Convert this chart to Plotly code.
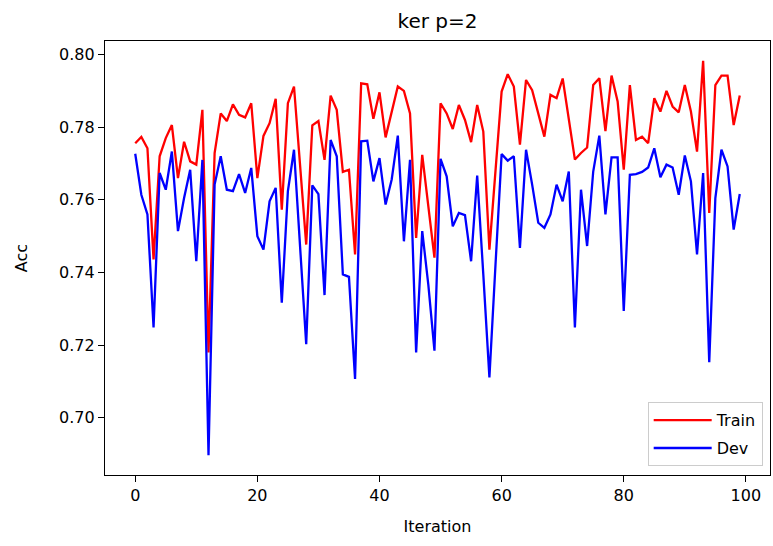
import plotly.graph_objects as go

iterations = list(range(100))

train_acc = [
    0.7756, 0.7773, 0.7742, 0.7436, 0.7720, 0.7770, 0.7806, 0.7660, 0.7760, 0.7706,
    0.7697, 0.7848, 0.7180, 0.7729, 0.7838, 0.7817, 0.7863, 0.7834, 0.7827, 0.7866,
    0.7660, 0.7776, 0.7811, 0.7878, 0.7573, 0.7866, 0.7912, 0.7700, 0.7477, 0.7805,
    0.7817, 0.7710, 0.7887, 0.7848, 0.7677, 0.7683, 0.7450, 0.7921, 0.7918, 0.7823,
    0.7896, 0.7772, 0.7838, 0.7912, 0.7900, 0.7838, 0.7495, 0.7724, 0.7582, 0.7441,
    0.7866, 0.7838, 0.7795, 0.7861, 0.7820, 0.7759, 0.7861, 0.7788, 0.7463, 0.7678,
    0.7898, 0.7946, 0.7912, 0.7752, 0.7930, 0.7902, 0.7834, 0.7774, 0.7889, 0.7880,
    0.7934, 0.7825, 0.7711, 0.7729, 0.7744, 0.7916, 0.7935, 0.7789, 0.7942, 0.7871,
    0.7683, 0.7916, 0.7765, 0.7774, 0.7756, 0.7880, 0.7843, 0.7900, 0.7857, 0.7841,
    0.7916, 0.7843, 0.7733, 0.7983, 0.7564, 0.7916, 0.7942, 0.7942, 0.7806, 0.7887,
]

dev_acc = [
    0.7727, 0.7614, 0.7560, 0.7249, 0.7674, 0.7628, 0.7733, 0.7514, 0.7605, 0.7683,
    0.7431, 0.7710, 0.6897, 0.7642, 0.7720, 0.7628, 0.7624, 0.7671, 0.7619, 0.7688,
    0.7500, 0.7463, 0.7596, 0.7633, 0.7317, 0.7624, 0.7738, 0.7468, 0.7203, 0.7640,
    0.7616, 0.7338, 0.7765, 0.7720, 0.7395, 0.7388, 0.7107, 0.7761, 0.7763, 0.7651,
    0.7715, 0.7587, 0.7656, 0.7777, 0.7486, 0.7710, 0.7180, 0.7514, 0.7366, 0.7185,
    0.7713, 0.7665, 0.7527, 0.7564, 0.7558, 0.7431, 0.7667, 0.7395, 0.7111, 0.7422,
    0.7726, 0.7708, 0.7720, 0.7468, 0.7738, 0.7642, 0.7537, 0.7523, 0.7560, 0.7642,
    0.7596, 0.7678, 0.7249, 0.7628, 0.7473, 0.7678, 0.7777, 0.7560, 0.7717, 0.7717,
    0.7294, 0.7669, 0.7671, 0.7677, 0.7689, 0.7742, 0.7662, 0.7697, 0.7689, 0.7614,
    0.7722, 0.7651, 0.7450, 0.7674, 0.7153, 0.7605, 0.7738, 0.7692, 0.7518, 0.7616,
]

x_ticks = [0, 20, 40, 60, 80, 100]
y_ticks = [0.70, 0.72, 0.74, 0.76, 0.78, 0.80]

FONT = "DejaVu Sans"

fig = go.Figure()
fig.add_trace(go.Scatter(x=iterations, y=train_acc, mode="lines", name="Train",
                         legendgroup="train",
                         line=dict(color="#ff0000", width=2.3)))
fig.add_trace(go.Scatter(x=iterations, y=dev_acc, mode="lines", name="Dev",
                         legendgroup="dev",
                         line=dict(color="#0000ff", width=2.3)))

ymin = min(min(train_acc), min(dev_acc))
ymax = max(max(train_acc), max(dev_acc))
pad = (ymax - ymin) * 0.05

fig.update_layout(
    width=773, height=546,
    paper_bgcolor="white", plot_bgcolor="white",
    margin=dict(l=105, r=3, t=41, b=71),
    font=dict(family=FONT, size=16, color="black"),
    title=dict(text="ker p=2", x=0.566, xanchor="center", y=0.962, yanchor="middle",
               font=dict(family=FONT, size=20, color="black")),
    showlegend=True,
    legend=dict(x=0.989, xanchor="right", y=0.02, yanchor="bottom",
                bgcolor="rgba(255,255,255,0.8)", bordercolor="#cccccc", borderwidth=1,
                font=dict(family=FONT, size=16, color="black"),
                itemwidth=58, traceorder="grouped", tracegroupgap=4),
    xaxis=dict(
        range=[-4.95, 103.95], tickvals=x_ticks, ticktext=[str(v) for v in x_ticks],
        showgrid=False, zeroline=False, showline=True, linecolor="black", linewidth=1.3,
        mirror=True, ticks="outside", ticklen=6, tickwidth=1.3, tickcolor="black",
        tickfont=dict(family=FONT, size=16, color="black"),
        title=dict(text="Iteration", standoff=16, font=dict(family=FONT, size=16, color="black")),
    ),
    yaxis=dict(
        range=[ymin - pad, ymax + pad], tickvals=y_ticks, ticktext=[f"{v:.2f}" for v in y_ticks],
        showgrid=False, zeroline=False, showline=True, linecolor="black", linewidth=1.3,
        mirror=True, ticks="outside", ticklen=6, tickwidth=1.3, tickcolor="black",
        tickfont=dict(family=FONT, size=16, color="black"),
        title=dict(text="Acc", standoff=27, font=dict(family=FONT, size=16, color="black")),
    ),
)

fig.write_html("out.html",
               config={"displayModeBar": False},
               post_script="document.body.style.margin='0px';document.body.style.overflow='hidden';")
